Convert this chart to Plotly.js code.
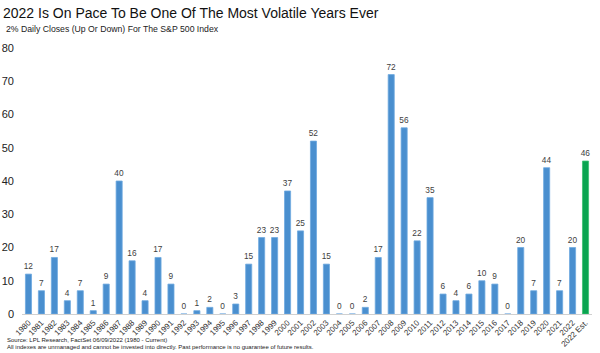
<!DOCTYPE html>
<html>
<head>
<meta charset="utf-8">
<script src="https://cdn.plot.ly/plotly-3.0.1.min.js"></script>
<style>html,body{margin:0;padding:0;background:#fff;}#chart{width:600px;height:353px;}</style>
</head>
<body>
<div id="chart"></div>
<script>
var years = ["1980","1981","1982","1983","1984","1985","1986","1987","1988","1989","1990","1991","1992","1993","1994","1995","1996","1997","1998","1999","2000","2001","2002","2003","2004","2005","2006","2007","2008","2009","2010","2011","2012","2013","2014","2015","2016","2017","2018","2019","2020","2021","2022"];
var counts = [12,7,17,4,7,1,9,40,16,4,17,9,0,1,2,0,3,15,23,23,37,25,52,15,0,0,2,17,72,56,22,35,6,4,6,10,9,0,20,7,44,7,20];
var estLabel = ["2022 Est."];
var estValue = [46];
var yTicks = [0,10,20,30,40,50,60,70,80];

var allCats = years.concat(estLabel);
var labelFont = {family: "Liberation Sans, Arial, sans-serif", size: 8.3, color: "#404040"};

var traces = [
  {type: "bar", x: years, y: counts, marker: {color: "#4A8FCF", line: {color: "#6FAAE0", width: 0.8}},
   text: counts.map(String), textposition: "outside", textfont: labelFont, constraintext: "none",
   cliponaxis: false, hoverinfo: "x+y"},
  {type: "bar", x: estLabel, y: estValue, marker: {color: "#0AA450", line: {color: "#3CC070", width: 0.8}},
   text: estValue.map(String), textposition: "outside", textfont: labelFont, constraintext: "none",
   cliponaxis: false, hoverinfo: "x+y"}
];

var layout = {
  width: 600, height: 353,
  margin: {l: 22, r: 8, t: 48, b: 39},
  paper_bgcolor: "#fff", plot_bgcolor: "#fff",
  showlegend: false,
  barmode: "overlay",
  bargap: 0.53,
  font: {family: "Liberation Sans, Arial, sans-serif", color: "#222"},
  title: {text: "2022 Is On Pace To Be One Of The Most Volatile Years Ever",
          font: {size: 14, color: "#111"}, x: 0.005, xanchor: "left", xref: "container",
          y: 0.963, yanchor: "middle", yref: "container", automargin: false},
  xaxis: {type: "category", categoryorder: "array", categoryarray: allCats, automargin: false,
          tickangle: -45, tickfont: {size: 8, color: "#333"}, showgrid: false,
          showline: true, linecolor: "#d0d0d0", linewidth: 1, ticks: "", zeroline: false,
          range: [-0.5, allCats.length - 0.5]},
  yaxis: {range: [0, 80], tickvals: yTicks, ticktext: yTicks.map(String), showgrid: false, automargin: false,
          zeroline: false, showline: false, ticks: "", tickfont: {size: 11, color: "#222"},
          ticklabelstandoff: 7},
  annotations: [
    {text: "2% Daily Closes (Up Or Down) For The S&P 500 Index", xref: "paper", yref: "paper",
     x: -0.031, y: 1.072, xanchor: "left", yanchor: "middle", showarrow: false,
     font: {size: 8.7, color: "#222"}},
    {text: "Source: LPL Research, FactSet 06/09/2022 (1980 - Current)", xref: "paper", yref: "paper",
     x: -0.029, y: -0.096, xanchor: "left", yanchor: "middle", showarrow: false,
     font: {size: 6, color: "#222"}},
    {text: "All indexes are unmanaged and cannot be invested into directly. Past performance is no guarantee of future results.", xref: "paper", yref: "paper",
     x: -0.029, y: -0.124, xanchor: "left", yanchor: "middle", showarrow: false,
     font: {size: 6, color: "#222"}}
  ]
};

Plotly.newPlot("chart", traces, layout, {displayModeBar: false, staticPlot: true});
</script>
</body>
</html>
